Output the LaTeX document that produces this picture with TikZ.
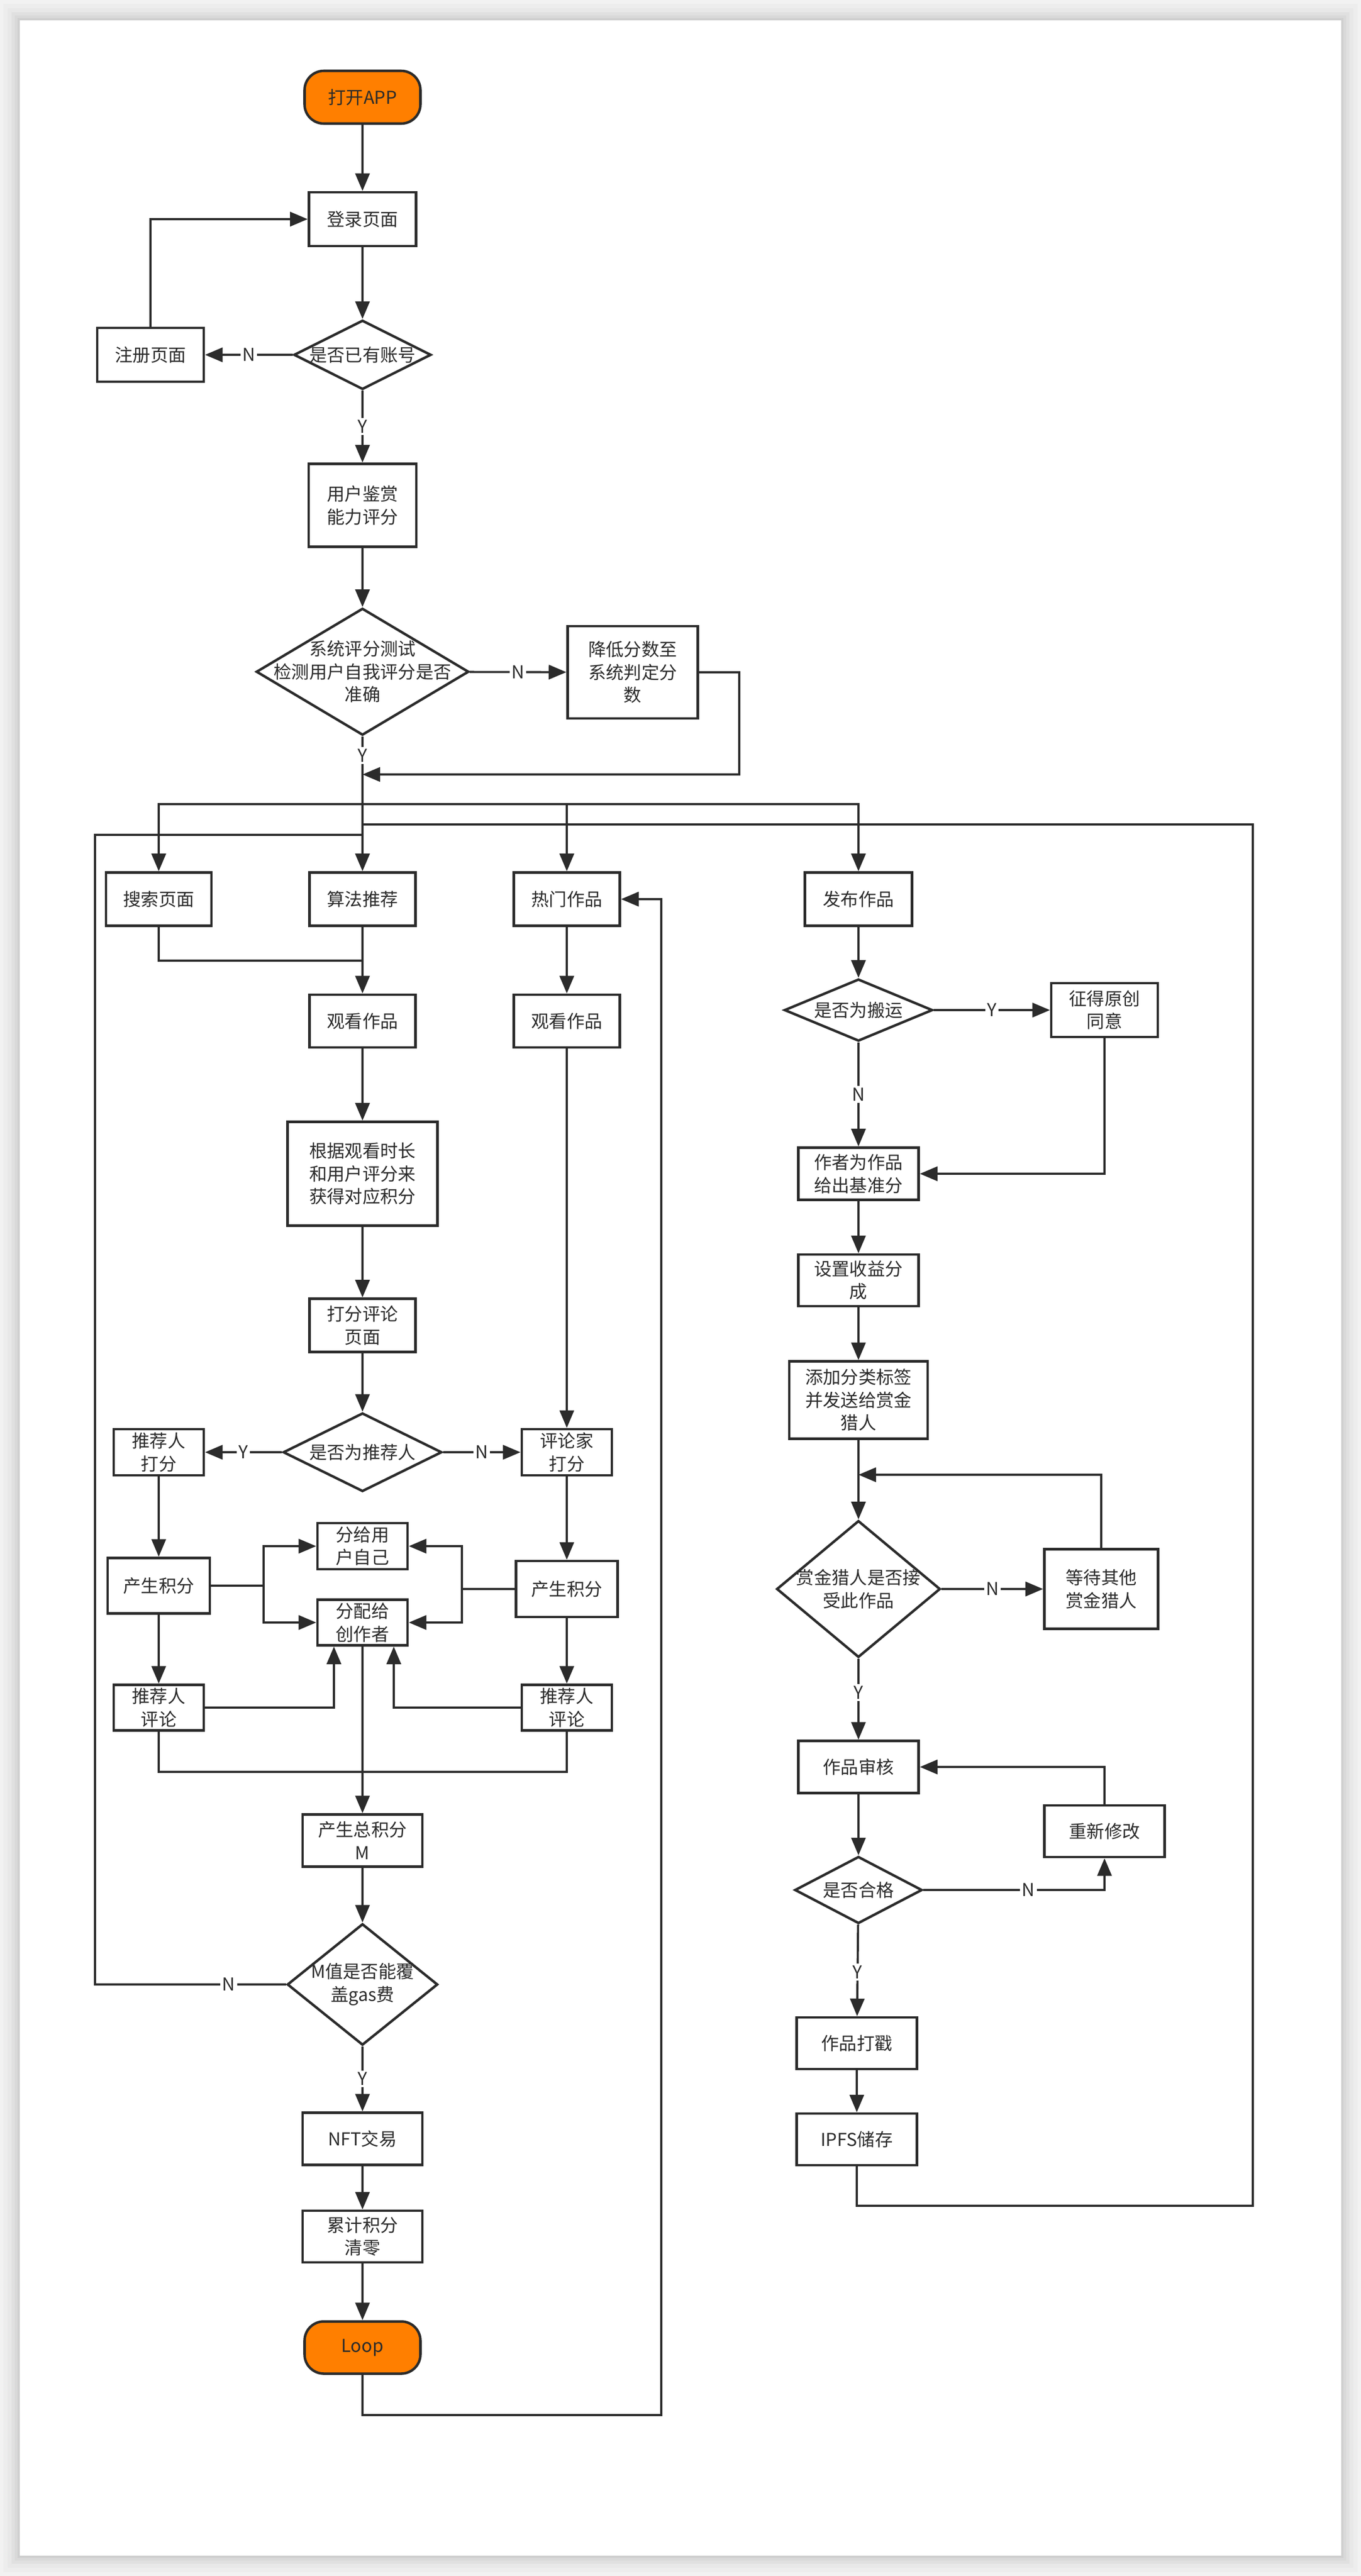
\documentclass[tikz,border=0pt]{standalone}
\usepackage{fontspec}
\setmainfont{Noto Sans CJK SC}
\usepackage{tikz}
\usepackage{xcolor}
\usetikzlibrary{arrows.meta, positioning, shapes.geometric}

\definecolor{ink}{HTML}{2B2B2B}
\definecolor{appOrange}{HTML}{FF7F00}

\begin{document}
\begin{tikzpicture}[y=-1cm, text=ink,
    font=\fontsize{9.2pt}{11.8pt}\selectfont,
    box/.style 2 args={draw=ink, line width=1.3pt, fill=white, align=center,
        inner sep=0pt, minimum width=#1cm, minimum height=#2cm},
    term/.style 2 args={box={#1}{#2}, fill=appOrange, rounded corners=0.35cm},
    decision/.style 2 args={diamond, draw=ink, line width=1.3pt, fill=white,
        inner sep=0pt, minimum width=#1cm, minimum height=#2cm},
    wire/.style={draw=ink, line width=1.1pt},
    flow/.style={wire, -{Triangle[length=0.32cm, width=0.26cm]}},
    yn/.style={fill=white, inner sep=1pt}
]
    \useasboundingbox (0,0) rectangle (24.78,46.90);

    % Page
    \fill[black!5] (0,0) rectangle (24.78,46.90);
    \foreach \d/\c in {0.30/7,0.22/9,0.15/12,0.09/15,0.04/19}
        \fill[black!\c] (0.36-\d,0.37-\d) rectangle (24.42+\d,46.53+\d);
    \fill[white] (0.36,0.37) rectangle (24.42,46.53);

    % Login
    \node[term={2.11}{0.96}] (app) at (6.60,1.77) {打开APP};
    \node[box={1.95}{0.98}] (login) at (6.60,3.99) {登录页面};
    \node[decision={2.50}{1.26}, label=center:是否已有账号] (hasacc) at (6.60,6.46) {};
    \node[box={1.94}{0.98}] (reg) at (2.74,6.46) {注册页面};
    \node[box={1.96}{1.51}] (rate) at (6.60,9.20) {用户鉴赏\\能力评分};
    \node[decision={3.87}{2.31}, label={[align=center]center:{系统评分测试\\检测用户自我评分是否\\准确}}] (systest) at (6.60,12.23) {};
    \node[box={2.37}{1.68}] (lower) at (11.52,12.24) {降低分数至\\系统判定分\\数};

    % Browsing and scoring
    \node[box={1.92}{0.97}] (search) at (2.89,16.37) {搜索页面};
    \node[box={1.93}{0.97}] (algo) at (6.60,16.37) {算法推荐};
    \node[box={1.93}{0.97}] (hot) at (10.32,16.37) {热门作品};
    \node[box={1.93}{0.96}] (watchA) at (6.60,18.59) {观看作品};
    \node[box={1.93}{0.96}] (watchB) at (10.32,18.59) {观看作品};
    \node[box={2.73}{1.89}] (points) at (6.60,21.37) {根据观看时长\\和用户评分来\\获得对应积分};
    \node[box={1.93}{0.97}] (review) at (6.60,24.13) {打分评论\\页面};
    \node[decision={2.89}{1.43}, label=center:是否为推荐人] (isrec) at (6.60,26.44) {};
    \node[box={1.64}{0.84}] (recscore) at (2.89,26.44) {推荐人\\打分};
    \node[box={1.64}{0.84}] (criscore) at (10.32,26.44) {评论家\\打分};
    \node[box={1.86}{1.01}] (genL) at (2.89,28.87) {产生积分};
    \node[box={1.85}{1.02}] (genR) at (10.32,28.93) {产生积分};
    \node[box={1.64}{0.84}] (toself) at (6.60,28.15) {分给用\\户自己};
    \node[box={1.64}{0.83}] (tocreator) at (6.60,29.54) {分配给\\创作者};
    \node[box={1.64}{0.83}] (commentL) at (2.89,31.09) {推荐人\\评论};
    \node[box={1.64}{0.83}] (commentR) at (10.32,31.09) {推荐人\\评论};
    \node[box={2.18}{0.95}] (total) at (6.60,33.51) {产生总积分\\M};
    \node[decision={2.74}{2.21}, label={[align=center]center:{M值是否能覆\\盖gas费}}] (gas) at (6.60,36.13) {};
    \node[box={2.18}{0.95}] (nft) at (6.60,38.94) {NFT交易};
    \node[box={2.18}{0.94}] (clear) at (6.60,40.72) {累计积分\\清零};
    \node[term={2.11}{0.95}] (loop) at (6.60,42.74) {Loop};

    % Publishing
    \node[box={1.95}{0.97}] (publish) at (15.63,16.37) {发布作品};
    \node[decision={2.70}{1.13}, label=center:是否为搬运] (copycheck) at (15.63,18.39) {};
    \node[box={1.94}{0.98}] (consent) at (20.11,18.39) {征得原创\\同意};
    \node[box={2.19}{0.95}] (base) at (15.63,21.37) {作者为作品\\给出基准分};
    \node[box={2.19}{0.94}] (share) at (15.63,23.31) {设置收益分\\成};
    \node[box={2.52}{1.41}] (tags) at (15.63,25.49) {添加分类标签\\并发送给赏金\\猎人};
    \node[decision={2.98}{2.49}, label={[align=center]center:{赏金猎人是否接\\受此作品}}] (accept) at (15.63,28.93) {};
    \node[box={2.07}{1.45}] (wait) at (20.05,28.93) {等待其他\\赏金猎人};
    \node[box={2.19}{0.95}] (audit) at (15.63,32.17) {作品审核};
    \node[decision={2.32}{1.22}, label=center:是否合格] (qualified) at (15.63,34.41) {};
    \node[box={2.19}{0.94}] (revise) at (20.11,33.34) {重新修改};
    \node[box={2.19}{0.94}] (stamp) at (15.60,37.20) {作品打戳};
    \node[box={2.19}{0.94}] (ipfs) at (15.60,38.95) {IPFS储存};

    % Bends and joins
    \coordinate (lowerturn) at (13.46,14.10);
    \coordinate (merge) at (6.60,14.10);
    \coordinate (fork) at (6.60,14.64);
    \coordinate (ipfsjoin) at (6.60,15.01);
    \coordinate (gasjoin) at (6.60,15.20);
    \coordinate (gasturn) at (1.73,15.20);
    \coordinate (searchjoin) at (6.60,17.49);
    \coordinate (splitL) at (4.80,28.87);
    \coordinate (splitR) at (8.41,28.93);
    \coordinate (commentjoin) at (6.60,32.26);
    \coordinate (loopturn) at (12.04,43.97);
    \coordinate (waitjoin) at (15.63,26.85);
    \coordinate (ipfsturn) at (22.81,40.16);

    % Login flow
    \draw[flow] (app) -- (login);
    \draw[flow] (login) -- (hasacc);
    \draw[flow] (hasacc) -- node[yn] {N} (reg);
    \draw[flow] (reg) |- (login);
    \draw[flow] (hasacc) -- node[yn] {Y} (rate);
    \draw[flow] (rate) -- (systest);
    \draw[flow] (systest) -- node[yn] {N} (lower);
    \draw[flow] (lower) -| (lowerturn) -- (merge);
    \draw[flow] (systest) -- node[yn, pos=0.14] {Y} (algo);
    \draw[flow] (fork) -| (search);
    \draw[flow] (fork) -| (hot);
    \draw[flow] (fork) -| (publish);

    % Browsing flow
    \draw[wire] (search) |- (searchjoin);
    \draw[flow] (algo) -- (watchA);
    \draw[flow] (hot) -- (watchB);
    \draw[flow] (watchA) -- (points);
    \draw[flow] (points) -- (review);
    \draw[flow] (review) -- (isrec);
    \draw[flow] (watchB) -- (criscore);
    \draw[flow] (isrec) -- node[yn] {Y} (recscore);
    \draw[flow] (isrec) -- node[yn] {N} (criscore);
    \draw[flow] (recscore) -- (genL);
    \draw[flow] (criscore) -- (genR);
    \draw[wire] (genL) -- (splitL);
    \draw[flow] (splitL) |- (toself);
    \draw[flow] (splitL) |- (tocreator);
    \draw[wire] (genR) -- (splitR);
    \draw[flow] (splitR) |- (toself);
    \draw[flow] (splitR) |- (tocreator);
    \draw[flow] (genL) -- (commentL);
    \draw[flow] (genR) -- (commentR);
    \draw[flow] (commentL) -| ([xshift=-5.2mm]tocreator.south);
    \draw[flow] (commentR) -| ([xshift=5.7mm]tocreator.south);
    \draw[wire] (commentL) |- (commentjoin) -| (commentR);
    \draw[flow] (tocreator) -- (total);
    \draw[flow] (total) -- (gas);
    \draw[wire] (gas) -| node[yn, pos=0.15] {N} (gasturn) -- (gasjoin);
    \draw[flow] (gas) -- node[yn] {Y} (nft);
    \draw[flow] (nft) -- (clear);
    \draw[flow] (clear) -- (loop);
    \draw[flow] (loop) |- (loopturn) |- (hot);

    % Publishing flow
    \draw[flow] (publish) -- (copycheck);
    \draw[flow] (copycheck) -- node[yn] {Y} (consent);
    \draw[flow] (copycheck) -- node[yn] {N} (base);
    \draw[flow] (consent) |- (base);
    \draw[flow] (base) -- (share);
    \draw[flow] (share) -- (tags);
    \draw[flow] (tags) -- (accept);
    \draw[flow] (wait) |- (waitjoin);
    \draw[flow] (accept) -- node[yn] {N} (wait);
    \draw[flow] (accept) -- node[yn, pos=0.42] {Y} (audit);
    \draw[flow] (audit) -- (qualified);
    \draw[flow] (revise) |- (audit);
    \draw[flow] (qualified) -| node[yn, pos=0.29] {N} (revise);
    \draw[flow] (qualified) -- node[yn, pos=0.52] {Y} (stamp);
    \draw[flow] (stamp) -- (ipfs);
    \draw[wire] (ipfs) |- (ipfsturn) |- (ipfsjoin);
\end{tikzpicture}
\end{document}
